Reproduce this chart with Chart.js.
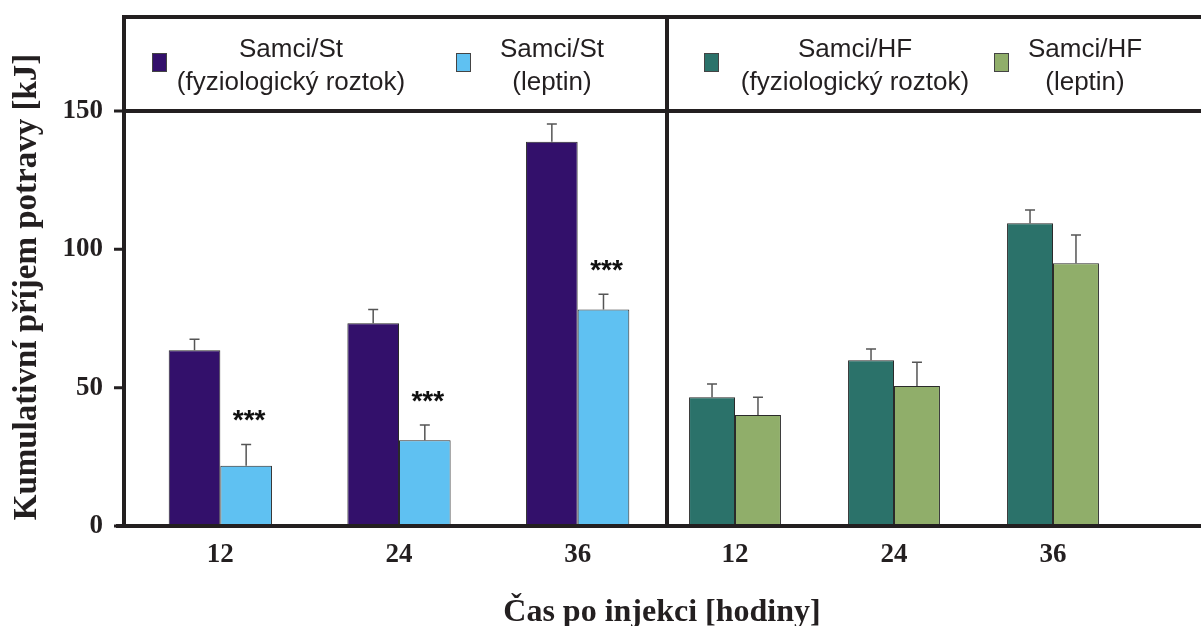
<!DOCTYPE html>
<html>
<head>
<meta charset="utf-8">
<script src="https://cdn.jsdelivr.net/npm/chart.js@4/dist/chart.umd.min.js"></script>
<style>
html, body { margin: 0; padding: 0; background: #fff; }
#wrap { position: relative; width: 1201px; height: 626px; }
#wrap canvas { position: absolute; left: 0; top: 0; }
</style>
</head>
<body>
<div id="wrap">
  <canvas id="hfChart" width="1201" height="626"></canvas>
  <canvas id="stChart" width="1201" height="626"></canvas>
</div>
<script>
// hodnoty (kJ)
const hours = ['12', '24', '36'];
const stSaline = [63.5, 73.3, 138.9];
const stSalineErr = [4.0, 5.0, 6.4];
const stLeptin = [21.8, 31.0, 78.3];
const stLeptinErr = [7.7, 5.5, 5.5];
const stLeptinStars = ['***', '***', '***'];
const hfSaline = [46.5, 59.9, 109.4];
const hfSalineErr = [4.8, 4.1, 4.8];
const hfLeptin = [40.1, 50.6, 95.0];
const hfLeptinErr = [6.4, 8.6, 10.2];
const yTicks = [0, 50, 100, 150];
const yMax = 184;
const legendLine = 150;

const stSalineLabel = ['Samci/St', '(fyziologický roztok)'];
const stLeptinLabel = ['Samci/St', '(leptin)'];
const hfSalineLabel = ['Samci/HF', '(fyziologický roztok)'];
const hfLeptinLabel = ['Samci/HF', '(leptin)'];

const ink = '#231f20';
const serif = '"Liberation Serif", "Times New Roman", serif';
const sans = '"Liberation Sans", Arial, sans-serif';

const errorBars = {
    id: 'errorBars',
    afterDatasetsDraw(chart) {
        const ctx = chart.ctx;
        const y = chart.scales.y;
        chart.data.datasets.forEach((ds, i) => {
            chart.getDatasetMeta(i).data.forEach((bar, j) => {
                const top = y.getPixelForValue(ds.data[j] + ds.errors[j]);
                ctx.save();
                ctx.strokeStyle = '#555';
                ctx.lineWidth = 1.5;
                ctx.beginPath();
                ctx.moveTo(bar.x, bar.y);
                ctx.lineTo(bar.x, top);
                ctx.moveTo(bar.x - 5, top);
                ctx.lineTo(bar.x + 5, top);
                ctx.stroke();
                if (ds.stars && ds.stars[j]) {
                    ctx.fillStyle = '#111';
                    ctx.font = 'bold 28px ' + sans;
                    ctx.textAlign = 'center';
                    ctx.textBaseline = 'alphabetic';
                    ctx.fillText(ds.stars[j], bar.x + 3, top - 15);
                }
                ctx.restore();
            });
        });
    }
};

const panelLegend = {
    id: 'panelLegend',
    afterDraw(chart, args, opts) {
        const ctx = chart.ctx;
        chart.data.datasets.forEach((ds, i) => {
            const slot = opts.slots[i];
            ctx.save();
            ctx.fillStyle = ds.backgroundColor;
            ctx.fillRect(slot.box, 53, 14, 18);
            ctx.strokeStyle = '#444';
            ctx.lineWidth = 1;
            ctx.strokeRect(slot.box + 0.5, 53.5, 14, 18);
            ctx.fillStyle = ink;
            ctx.font = '26px ' + sans;
            ctx.textAlign = 'center';
            ctx.textBaseline = 'alphabetic';
            ds.legendLines.forEach((line, k) => ctx.fillText(line, slot.text, 57 + k * 33));
            ctx.restore();
        });
    }
};

// rámeček, dělicí čáry a popisky os (jen u levého grafu)
const frame = {
    id: 'frame',
    afterDraw(chart, args, opts) {
        const ctx = chart.ctx;
        const y = chart.scales.y;
        const area = chart.chartArea;
        const right = chart.width;
        const yTop = y.getPixelForValue(yMax);
        const yZero = y.getPixelForValue(0);
        ctx.save();
        ctx.strokeStyle = ink;
        ctx.lineWidth = 4;
        ctx.beginPath();
        ctx.moveTo(opts.left - 2, yTop); ctx.lineTo(right, yTop);
        ctx.moveTo(opts.left, y.getPixelForValue(legendLine)); ctx.lineTo(right, y.getPixelForValue(legendLine));
        ctx.moveTo(opts.left - 8, yZero); ctx.lineTo(right, yZero);
        ctx.moveTo(opts.left, yTop); ctx.lineTo(opts.left, yZero + 2);
        ctx.moveTo(area.right, yTop); ctx.lineTo(area.right, yZero + 2);
        ctx.stroke();
        ctx.lineWidth = 3;
        ctx.beginPath();
        yTicks.forEach(v => {
            ctx.moveTo(opts.left - 10, y.getPixelForValue(v));
            ctx.lineTo(opts.left, y.getPixelForValue(v));
        });
        ctx.stroke();

        ctx.fillStyle = ink;
        ctx.font = 'bold 33px ' + serif;
        ctx.textAlign = 'center';
        ctx.textBaseline = 'middle';
        ctx.translate(27, 287);
        ctx.rotate(-Math.PI / 2);
        ctx.fillText('Kumulativní příjem potravy [kJ]', 0, 0);
        ctx.restore();

        ctx.save();
        ctx.fillStyle = ink;
        ctx.font = 'bold 32px ' + serif;
        ctx.textAlign = 'center';
        ctx.textBaseline = 'alphabetic';
        ctx.fillText('Čas po injekci [hodiny]', 662, 621);
        ctx.restore();
    }
};

function yAxis(width, labelColor) {
    return {
        min: 0,
        max: yMax,
        afterBuildTicks: s => { s.ticks = yTicks.map(v => ({ value: v })); },
        afterFit: s => { s.width = width; },
        grid: { display: false, drawTicks: true, tickLength: 28 },
        border: { display: false },
        ticks: { padding: 0, color: labelColor, font: { family: serif, size: 27, weight: 'bold' } }
    };
}

const xAxis = {
    afterFit: s => { s.height = 60; },
    grid: { display: false, drawTicks: false },
    border: { display: false },
    ticks: { padding: 13, color: ink, font: { family: serif, size: 27, weight: 'bold' } }
};

function bars(label, data, errors, color) {
    return {
        label: label.join(' '),
        legendLines: label,
        data: data,
        errors: errors,
        backgroundColor: color,
        borderColor: '#2a2a2a',
        borderWidth: 1,
        categoryPercentage: 0.578,
        barPercentage: 1
    };
}

function baseOptions(yWidth, yColor, padRight, slots, frameOpts) {
    return {
        responsive: false,
        animation: false,
        layout: { padding: { top: 17, bottom: 40, left: 0, right: padRight } },
        scales: { x: xAxis, y: yAxis(yWidth, yColor) },
        plugins: {
            legend: { display: false },
            tooltip: { enabled: false },
            panelLegend: { slots: slots },
            frame: frameOpts
        }
    };
}

const hfChart = new Chart(document.querySelector('#hfChart').getContext('2d'), {
    type: 'bar',
    data: {
        labels: hours,
        datasets: [
            bars(hfSalineLabel, hfSaline, hfSalineErr, '#2b726a'),
            bars(hfLeptinLabel, hfLeptin, hfLeptinErr, '#90ae6a')
        ]
    },
    options: baseOptions(655.5, 'rgba(0,0,0,0)', 68.5,
        [{ box: 704, text: 855 }, { box: 994, text: 1085 }], {}),
    plugins: [errorBars, panelLegend]
});

const stLeptinSet = bars(stLeptinLabel, stLeptin, stLeptinErr, '#5fc1f2');
stLeptinSet.stars = stLeptinStars;

const stChart = new Chart(document.querySelector('#stChart').getContext('2d'), {
    type: 'bar',
    data: {
        labels: hours,
        datasets: [
            bars(stSalineLabel, stSaline, stSalineErr, '#33106b'),
            stLeptinSet
        ]
    },
    options: baseOptions(131, ink, 534,
        [{ box: 152, text: 291 }, { box: 456, text: 552 }], { left: 124 }),
    plugins: [errorBars, panelLegend, frame]
});
</script>
</body>
</html>
